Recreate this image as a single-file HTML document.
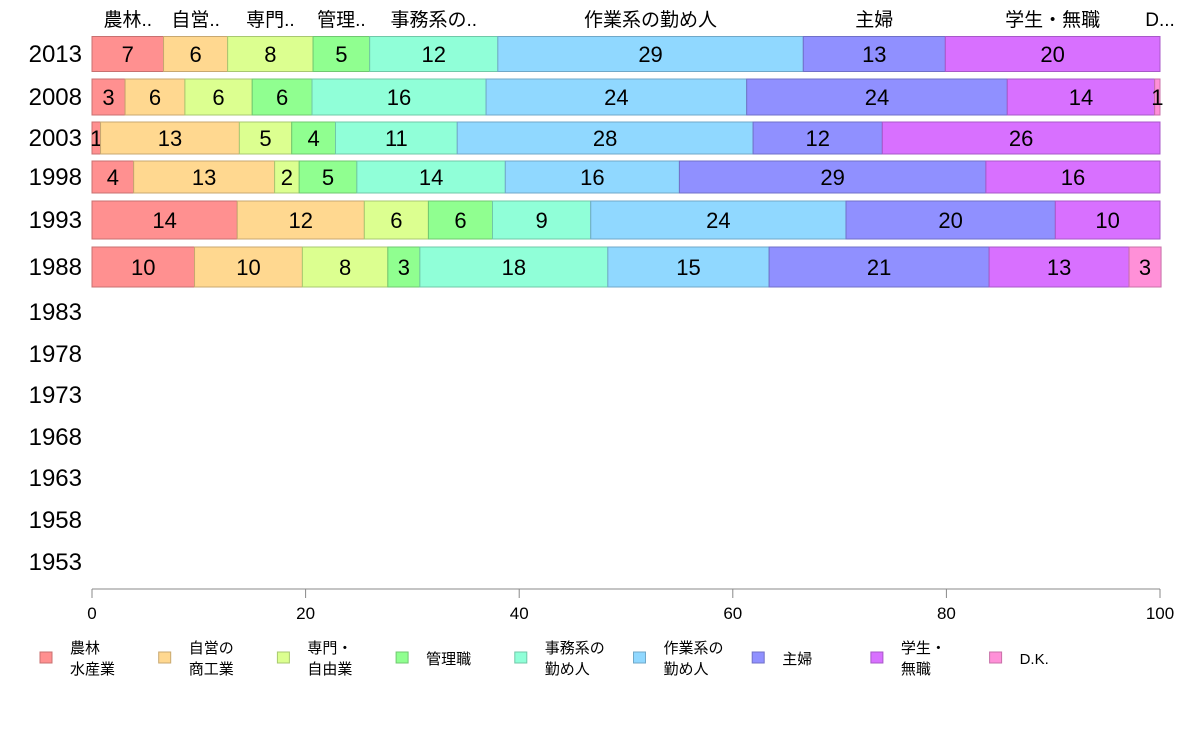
<!DOCTYPE html>
<html><head><meta charset="utf-8">
<style>
body{margin:0;background:#fff;}
svg text{font-family:"Liberation Sans","Noto Sans CJK JP",sans-serif;}
</style></head>
<body>
<svg id="chart" width="1188" height="736" viewBox="0 0 1188 736" xmlns="http://www.w3.org/2000/svg"></svg>
<script>
const categories = ["農林水産業","自営の商工業","専門・自由業","管理職","事務系の勤め人","作業系の勤め人","主婦","学生・無職","D.K."];
const headerLabels = ["農林..","自営..","専門..","管理..","事務系の..","作業系の勤め人","主婦","学生・無職","D..."];
const legendLines = [["農林","水産業"],["自営の","商工業"],["専門・","自由業"],["管理職"],["事務系の","勤め人"],["作業系の","勤め人"],["主婦"],["学生・","無職"],["D.K."]];
const years = ["2013","2008","2003","1998","1993","1988","1983","1978","1973","1968","1963","1958","1953"];
const v2013 = [6.7,6.0,8.0,5.3,12.0,28.6,13.3,20.1,0];
const v2008 = [3.1,5.6,6.3,5.6,16.3,24.4,24.4,13.8,0.5];
const v2003 = [0.8,13.0,4.9,4.1,11.4,27.7,12.1,26.0,0];
const v1998 = [3.9,13.2,2.3,5.4,13.9,16.3,28.7,16.3,0];
const v1993 = [13.6,11.9,6.0,6.0,9.2,23.9,19.6,9.8,0];
const v1988 = [9.6,10.1,8.0,3.0,17.6,15.1,20.6,13.1,3.0];
const seriesByYear = [v2013,v2008,v2003,v1998,v1993,v1988,null,null,null,null,null,null,null];
const xTicks = [0,20,40,60,80,100];

const colors = ["#ff9090","#ffd890","#dcff90","#90ff90","#90ffd8","#90d8ff","#9090ff","#d870ff","#ff90d8"];
const strokes = ["#c87070","#c8a870","#a8c870","#70c870","#70c8a8","#70a8c8","#7070c8","#a858c8","#c870a8"];
const rowCenter = [54,97,138,177,220,267,312,354,395,437,478,520,562];
const rowHeight = [35,36,32,32,38,40,0,0,0,0,0,0,0];

const svg = document.getElementById('chart');
const NS = "http://www.w3.org/2000/svg";
const X0 = 92, X1 = 1160;
function x(v){ return X0 + (X1 - X0) * v / 100; }
function mk(tag, attrs, parent){ const e = document.createElementNS(NS, tag); for (const k in attrs) e.setAttribute(k, attrs[k]); (parent||svg).appendChild(e); return e; }

// year labels
years.forEach((y,i)=>{
  const t = mk('text',{x:82,y:rowCenter[i]+8,'font-size':24,'text-anchor':'end',fill:'#000'});
  
  
  t.textContent = y;
});

// bars
seriesByYear.forEach((vals,i)=>{
  if(!vals) return;
  const g = mk('g',{});
  
  
  let cum = 0;
  const h = rowHeight[i], top = rowCenter[i] - h/2;
  vals.forEach((v,j)=>{
    if(v<=0){ return; }
    const r = mk('rect',{x:x(cum),y:top,width:x(cum+v)-x(cum),height:h,fill:colors[j],stroke:strokes[j],'stroke-width':1},g);
    
    
    const t = mk('text',{x:(x(cum)+x(cum+v))/2,y:rowCenter[i]+8,'font-size':22,'text-anchor':'middle',fill:'#000'},g);
    
    
    t.textContent = Math.round(v);
    cum += v;
  });
});

// header labels centered over 2013 segments (last one at right end)
{
  let cum = 0;
  headerLabels.forEach((lab,j)=>{
    const v = v2013[j];
    let cx = (x(cum)+x(cum+v))/2;
    if (j === 8) cx = 1160;
    const t = mk('text',{x:cx,y:26,'font-size':19,'text-anchor':'middle',fill:'#000'});
    
    
    t.textContent = lab;
    cum += v;
  });
}

// x axis
const ax = mk('line',{x1:X0,y1:589,x2:X1,y2:589,stroke:'#888','stroke-width':1});


xTicks.forEach(tv=>{
  const l = mk('line',{x1:x(tv),y1:589,x2:x(tv),y2:598,stroke:'#888','stroke-width':1});
  
  
  const t = mk('text',{x:x(tv),y:619,'font-size':17,'text-anchor':'middle',fill:'#000'});
  
  
  t.textContent = tv;
});

// legend
categories.forEach((c,j)=>{
  const g = mk('g',{});
  
  
  const sx = 40 + j*118.7;
  mk('rect',{x:sx,y:652,width:12,height:11,fill:colors[j],stroke:strokes[j],'stroke-width':1},g);
  const lines = legendLines[j];
  lines.forEach((ln,k)=>{
    const ty = lines.length===1 ? 664 : 653 + k*21;
    const t = mk('text',{x:sx+30,y:ty,'font-size':15,fill:'#000'},g);
    t.textContent = ln;
  });
});
</script>
</body></html>
